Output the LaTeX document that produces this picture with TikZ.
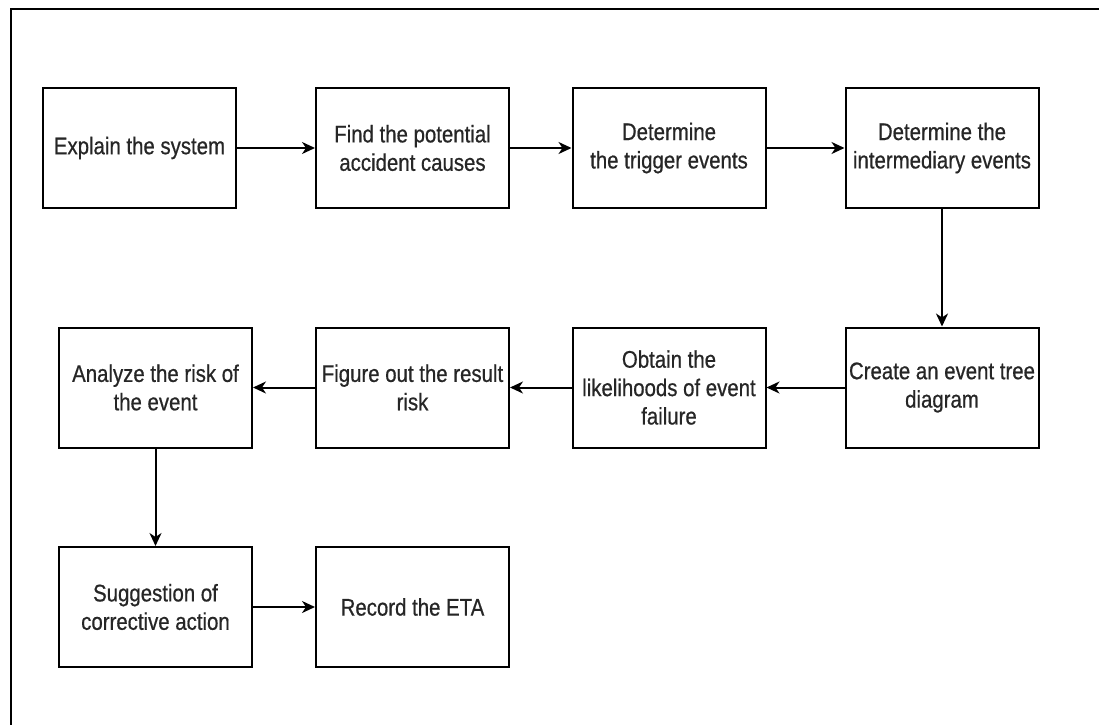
\documentclass[tikz,border=0pt]{standalone}
\usepackage{fontspec}
\setmainfont{Liberation Sans}[FakeStretch=0.85,FakeBold=0.6]
\usetikzlibrary{arrows.meta}
\definecolor{txt}{HTML}{262626}
\begin{document}
\begin{tikzpicture}[x=0.5pt,y=-0.5pt,
  box/.style={draw=black, line width=1pt, minimum width=96.5pt, minimum height=60pt,
    inner sep=0pt, align=center, text=txt, font=\fontsize{12pt}{14.2pt}\selectfont},
  conn/.style={draw=black, line width=1pt, -{Stealth[length=6.5pt,width=6pt,inset=2pt]}}]
\useasboundingbox (0,0) rectangle (1099,724);
\fill[white] (0,0) rectangle (1099,724);
\draw[line width=1pt] (11,9) rectangle (1130,760);
% row 1
\node[box] (explain) at (139.5,148) {Explain the system};
\node[box] (find) at (412.5,148) {Find the potential\\accident causes};
\node[box] (trigger) at (669,148) {Determine\\the trigger events};
\node[box] (inter) at (942,148) {Determine the\\intermediary events};
% row 2
\node[box] (create) at (942,387.5) {Create an event tree\\diagram};
\node[box] (obtain) at (669,387.5) {Obtain the\\likelihoods of event\\failure};
\node[box] (figure) at (412.5,387.5) {Figure out the result\\risk};
\node[box] (analyze) at (155.5,387.5) {Analyze the risk of\\the event};
% row 3
\node[box] (suggest) at (155.5,607) {Suggestion of\\corrective action};
\node[box] (record) at (412.5,607) {Record the ETA};
% connectors
\draw[conn] (explain) -- (find);
\draw[conn] (find) -- (trigger);
\draw[conn] (trigger) -- (inter);
\draw[conn] (inter) -- (create);
\draw[conn] (create) -- (obtain);
\draw[conn] (obtain) -- (figure);
\draw[conn] (figure) -- (analyze);
\draw[conn] (analyze) -- (suggest);
\draw[conn] (suggest) -- (record);
\end{tikzpicture}
\end{document}
